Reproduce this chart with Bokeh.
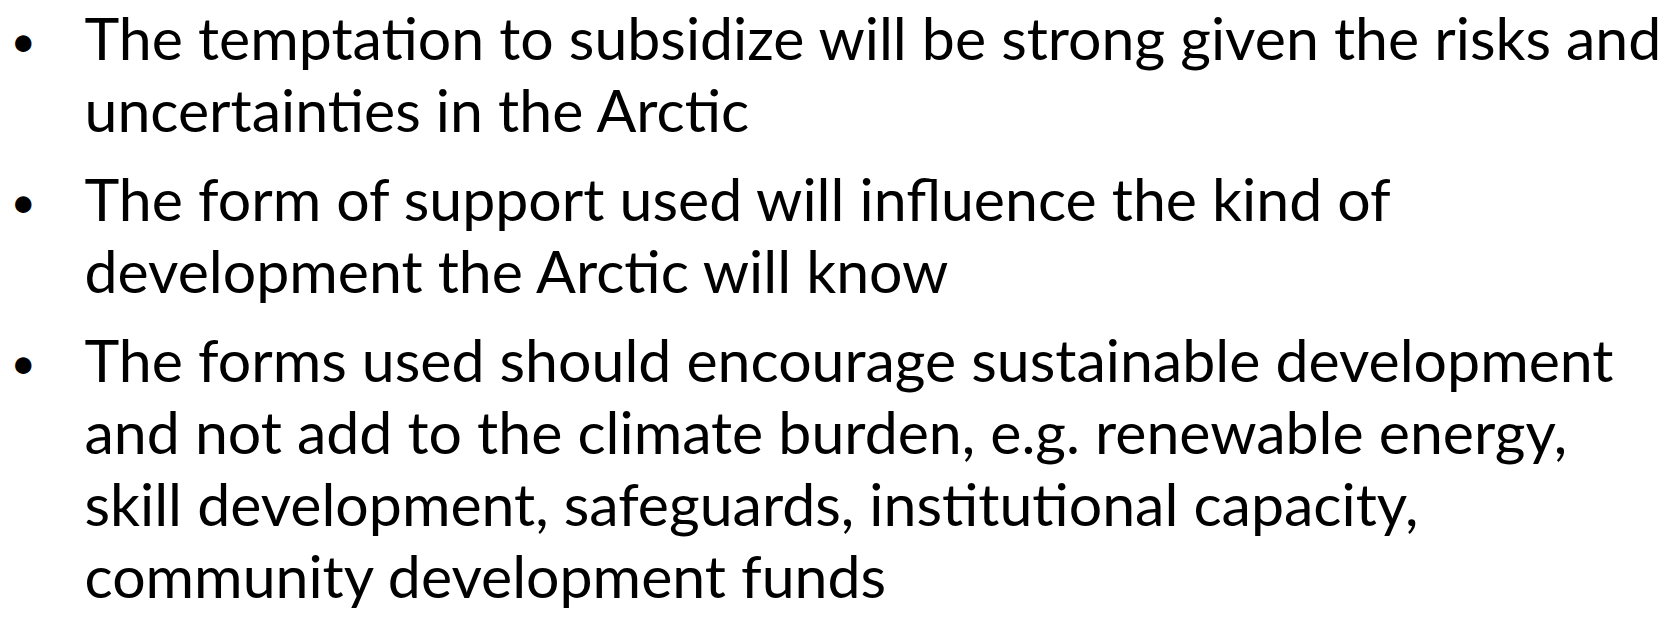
from bokeh.plotting import figure
from bokeh.models import ColumnDataSource, Range1d
from bokeh.core.properties import value
from bokeh.embed import file_html
from bokeh.resources import INLINE

# Slide content: each entry is one rendered line; paragraph index marks bullets
line_texts = [
    "The temptation to subsidize will be strong given the risks and",
    "uncertainties in the Arctic",
    "The form of support used will influence the kind of",
    "development the Arctic will know",
    "The forms used should encourage sustainable development",
    "and not add to the climate burden, e.g. renewable energy,",
    "skill development, safeguards, institutional capacity,",
    "community development funds",
]
paragraph_of_line = [0, 0, 1, 1, 2, 2, 2, 2]
bullet_char = "\u2022"

W, H = 1664, 615
FONT = "Lato"
FSIZE = "59px"
BULLET_FSIZE = "44px"
LINE_STEP = 72
PARA_GAP = 17
FIRST_ANCHOR = 37      # vertical middle of the first line
TEXT_X = 84
BULLET_X = 10
BULLET_DY = 2

ys = []
y = FIRST_ANCHOR
prev = paragraph_of_line[0]
for i, para in enumerate(paragraph_of_line):
    if i > 0:
        y += LINE_STEP + (PARA_GAP if para != prev else 0)
    ys.append(y)
    prev = para

bx, by, bt = [], [], []
seen = set()
for i, para in enumerate(paragraph_of_line):
    if para not in seen:
        seen.add(para)
        bx.append(BULLET_X)
        by.append(ys[i] + BULLET_DY)
        bt.append(bullet_char)

p = figure(width=W, height=H, output_backend="svg", toolbar_location=None,
           x_range=Range1d(0, W), y_range=Range1d(H, 0),
           x_axis_location=None, y_axis_location=None,
           min_border=0, min_border_left=0, min_border_right=0,
           min_border_top=0, min_border_bottom=0)
p.title.visible = False
p.grid.visible = False
p.outline_line_color = None
p.background_fill_color = "white"
p.border_fill_color = "white"

src = ColumnDataSource(dict(x=[TEXT_X] * len(line_texts), y=ys, t=line_texts))
p.text(x="x", y="y", text="t", source=src, text_font=value(FONT),
       text_font_size=FSIZE, text_color="black", text_baseline="middle",
       text_align="left")

bsrc = ColumnDataSource(dict(x=bx, y=by, t=bt))
p.text(x="x", y="y", text="t", source=bsrc, text_font=value(FONT),
       text_font_size=BULLET_FSIZE, text_color="black", text_baseline="middle",
       text_align="left")

open("out.html", "w").write(file_html(p, INLINE))
